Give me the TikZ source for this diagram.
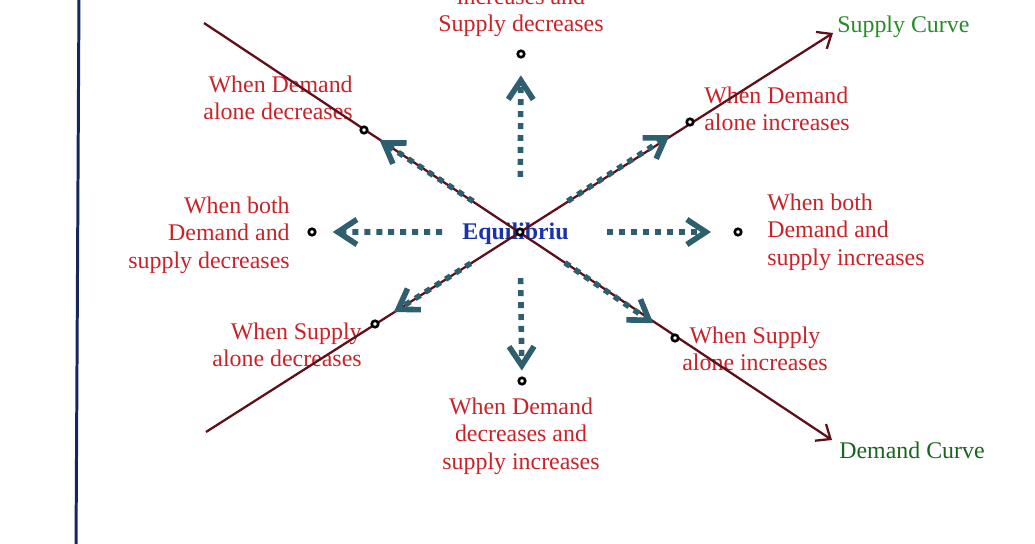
\documentclass[tikz,border=0pt]{standalone}
\usepackage{fontspec}
\setmainfont{Liberation Serif}
\usetikzlibrary{arrows.meta,calc}

\definecolor{labelred}{RGB}{200,35,40}
\definecolor{curvemaroon}{RGB}{95,15,25}
\definecolor{shiftteal}{RGB}{45,95,110}
\definecolor{axisnavy}{RGB}{20,40,95}
\definecolor{eqblue}{RGB}{25,50,170}
\definecolor{supplygreen}{RGB}{40,140,40}
\definecolor{demandgreen}{RGB}{25,100,30}

\begin{document}
\begin{tikzpicture}[
  x=0.02cm,y=-0.02cm,
  every node/.style={font=\fontsize{13.6}{15.4}\selectfont},
  lbl/.style={text=labelred,inner sep=0pt},
  curvetag/.style={inner sep=0pt,anchor=base west},
  axisline/.style={draw=axisnavy,line width=1.7pt},
  curveline/.style={draw=curvemaroon,line width=1.3pt,-{Straight Barb[length=2.4mm,width=4mm]}},
  shiftarrow/.style={draw=shiftteal,line width=3.2pt,dash pattern=on 3.4pt off 3.4pt,
    -{Straight Barb[length=3.8mm,width=5mm]}},
  ptdot/.style={circle,draw=black,fill=white,line width=1.5pt,minimum size=0.13cm,inner sep=0pt},
]
\useasboundingbox (0,0) rectangle (1035,544);

% ---------- Points ----------
\coordinate (eq) at (520,232);
\coordinate (dUp) at (521,54);
\coordinate (dDown) at (522,381);
\coordinate (dLeft) at (312,232);
\coordinate (dRight) at (738,232);
\coordinate (dUL) at (364,130);
\coordinate (dUR) at (690,122);
\coordinate (dLL) at (375,324);
\coordinate (dLR) at (675,338);

\coordinate (axTop) at (79,-5);
\coordinate (axBot) at (76,550);
\coordinate (demA) at (204,23);
\coordinate (demB) at (832,440);
\coordinate (supA) at (206,432);
\coordinate (supB) at (833,33);

% ---------- Vertical axis ----------
\draw[axisline] (axTop) -- (axBot);

% ---------- Labels ----------
\node[lbl,anchor=north,align=center] (tUp) at (521,-12) {increases and\\Supply decreases};
\node[lbl,anchor=north east,align=right] (tUL) at (353,76) {When Demand\\alone decreases};
\node[lbl,anchor=north east,align=right] (tLeft) at (290,197) {When both\\Demand and\\supply decreases};
\node[lbl,anchor=north west,align=left] (tUR) at (704,87) {When Demand\\alone increases};
\node[lbl,anchor=north west,align=left] (tRight) at (767,194) {When both\\Demand and\\supply increases};
\node[lbl,anchor=north east,align=right] (tLL) at (362,323) {When Supply\\alone decreases};
\node[lbl,anchor=north,align=center] (tLR) at (755,327) {When Supply\\alone increases};
\node[lbl,anchor=north,align=center] (tDown) at (521,398) {When Demand\\decreases and\\supply increases};

\node[curvetag,text=supplygreen] (supTag) at (837,33) {Supply Curve};
\node[curvetag,text=demandgreen] (demTag) at (839,458) {Demand Curve};
\node[inner sep=0pt,anchor=base west,text=eqblue,font=\fontsize{13.6}{15.4}\selectfont\bfseries] (eqTag) at (462,239) {Equilibriu};

% ---------- Curves ----------
\draw[curveline] (demA) -- (demB);
\draw[curveline] (supA) -- (supB);

% ---------- Shift arrows ----------
\draw[shiftarrow] ($(eq)!0.31!(dUp)$) -- ($(eq)!0.88!(dUp)$);
\draw[shiftarrow] ($(eq)!0.31!(dDown)$) -- ($(eq)!0.93!(dDown)$);
\draw[shiftarrow] ($(eq)!0.375!(dLeft)$) -- ($(eq)!0.90!(dLeft)$);
\draw[shiftarrow] ($(eq)!0.40!(dRight)$) -- ($(eq)!0.876!(dRight)$);
\draw[shiftarrow] ($(eq)!0.30!(dUL)$) -- ($(eq)!0.90!(dUL)$);
\draw[shiftarrow] ($(eq)!0.28!(dUR)$) -- ($(eq)!0.88!(dUR)$);
\draw[shiftarrow] ($(eq)!0.34!(dLL)$) -- ($(eq)!0.87!(dLL)$);
\draw[shiftarrow] ($(eq)!0.29!(dLR)$) -- ($(eq)!0.86!(dLR)$);

% ---------- Dots ----------
\node[ptdot] (nEq) at (eq) {};
\node[ptdot] (nUp) at (dUp) {};
\node[ptdot] (nDown) at (dDown) {};
\node[ptdot] (nLeft) at (dLeft) {};
\node[ptdot] (nRight) at (dRight) {};
\node[ptdot] (nUL) at (dUL) {};
\node[ptdot] (nUR) at (dUR) {};
\node[ptdot] (nLL) at (dLL) {};
\node[ptdot] (nLR) at (dLR) {};

\end{tikzpicture}
\end{document}
